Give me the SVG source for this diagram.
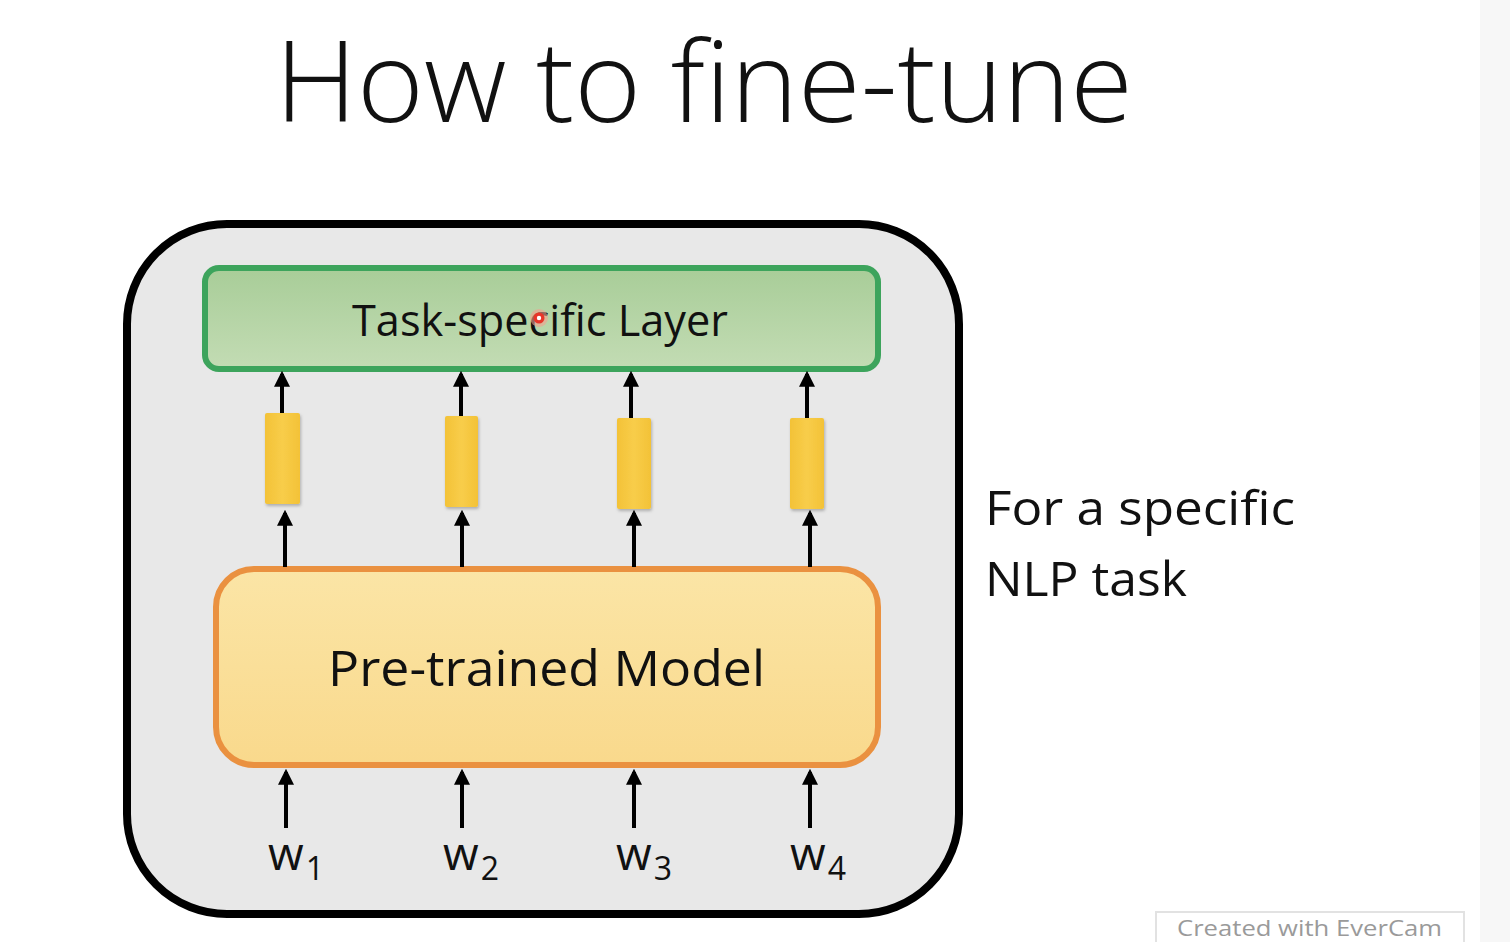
<svg xmlns="http://www.w3.org/2000/svg" width="1510" height="942" viewBox="0 0 1510 942">
<defs>
<linearGradient id="gGreen" x1="0" y1="0" x2="0" y2="1"><stop offset="0" stop-color="#a8cd98"/><stop offset="1" stop-color="#c3dcb4"/></linearGradient>
<linearGradient id="gOrange" x1="0" y1="0" x2="0" y2="1"><stop offset="0" stop-color="#fbe5a6"/><stop offset="1" stop-color="#f9d98c"/></linearGradient>
<linearGradient id="gYel" x1="0" y1="0" x2="1" y2="0"><stop offset="0" stop-color="#f3c237"/><stop offset="0.5" stop-color="#f8cd4a"/><stop offset="1" stop-color="#f3c237"/></linearGradient>
<marker id="ah" viewBox="0 0 10 10" refX="8" refY="5" markerWidth="4" markerHeight="4" orient="auto" markerUnits="strokeWidth"><path d="M0,0 L10,5 L0,10 Z" fill="#000"/></marker>
<filter id="sh" x="-30%" y="-10%" width="160%" height="130%"><feDropShadow dx="1" dy="2" stdDeviation="1.5" flood-color="#000" flood-opacity="0.25"/></filter>
</defs>
<style>
.t{font-family:"Open Sans","Liberation Sans",sans-serif;fill:#111}
.arr{stroke:#000;stroke-width:4;fill:none}
.vec{fill:url(#gYel);filter:url(#sh)}
</style>
<rect x="0" y="0" width="1510" height="942" fill="#ffffff"/>
<rect x="1480" y="0" width="30" height="942" fill="#f7f7f7"/>
<text class="t" x="275" y="122" font-size="112" font-weight="300" textLength="858" lengthAdjust="spacingAndGlyphs">How to fine-tune</text>
<g id="container"><rect x="127" y="224" width="832" height="690" rx="100" fill="#e8e8e8" stroke="#000" stroke-width="8"/></g>
<g id="task-layer"><rect x="205" y="268" width="673" height="101" rx="14" fill="url(#gGreen)" stroke="#3da45c" stroke-width="6"/>
<text class="t" x="352" y="336" font-size="44" textLength="376" lengthAdjust="spacingAndGlyphs">Task-specific Layer</text></g>
<g id="pretrained"><rect x="216" y="569" width="662" height="196" rx="38" fill="url(#gOrange)" stroke="#ea9140" stroke-width="6"/>
<text class="t" x="328" y="686" font-size="50" textLength="437" lengthAdjust="spacingAndGlyphs">Pre-trained Model</text></g>
<g id="vectors">
<rect class="vec" x="265" y="413" width="35" height="91" rx="2"/>
<rect class="vec" x="445" y="416" width="33" height="91" rx="2"/>
<rect class="vec" x="617" y="418" width="34" height="91" rx="2"/>
<rect class="vec" x="790" y="418" width="34" height="91" rx="2"/>
</g>
<g id="connectors">
<line class="arr" x1="282" y1="413" x2="282" y2="374" marker-end="url(#ah)"/>
<line class="arr" x1="461" y1="416" x2="461" y2="374" marker-end="url(#ah)"/>
<line class="arr" x1="631" y1="418" x2="631" y2="374" marker-end="url(#ah)"/>
<line class="arr" x1="807" y1="418" x2="807" y2="374" marker-end="url(#ah)"/>
<line class="arr" x1="285" y1="567" x2="285" y2="513" marker-end="url(#ah)"/>
<line class="arr" x1="462" y1="567" x2="462" y2="513" marker-end="url(#ah)"/>
<line class="arr" x1="634" y1="567" x2="634" y2="513" marker-end="url(#ah)"/>
<line class="arr" x1="810" y1="567" x2="810" y2="513" marker-end="url(#ah)"/>
<line class="arr" x1="286" y1="828" x2="286" y2="772" marker-end="url(#ah)"/>
<line class="arr" x1="462" y1="828" x2="462" y2="772" marker-end="url(#ah)"/>
<line class="arr" x1="634" y1="828" x2="634" y2="772" marker-end="url(#ah)"/>
<line class="arr" x1="810" y1="828" x2="810" y2="772" marker-end="url(#ah)"/>
</g>
<g id="inputs">
<text class="t" x="268" y="870" font-size="46">w<tspan font-size="32" dx="2" dy="10">1</tspan></text>
<text class="t" x="443" y="870" font-size="46">w<tspan font-size="32" dx="2" dy="10">2</tspan></text>
<text class="t" x="616" y="870" font-size="46">w<tspan font-size="32" dx="2" dy="10">3</tspan></text>
<text class="t" x="790" y="870" font-size="46">w<tspan font-size="32" dx="2" dy="10">4</tspan></text>
</g>
<g id="note">
<text class="t" x="985" y="525" font-size="48" textLength="310" lengthAdjust="spacingAndGlyphs">For a specific</text>
<text class="t" x="985" y="596" font-size="48" textLength="202" lengthAdjust="spacingAndGlyphs">NLP task</text>
</g>
<circle cx="539" cy="318" r="9" fill="#f4a090" opacity="0.6"/>
<circle cx="539" cy="318" r="5.5" fill="#e8362a"/>
<circle cx="539" cy="318" r="2.2" fill="#fff"/>
<g id="watermark"><rect x="1156" y="912" width="308" height="40" fill="#fff" stroke="#e2e2e2" stroke-width="2"/>
<text x="1177" y="936" font-family="Open Sans,Liberation Sans,sans-serif" font-size="21" fill="#9a9a9a" textLength="265" lengthAdjust="spacingAndGlyphs">Created  with  EverCam</text></g>
</svg>
